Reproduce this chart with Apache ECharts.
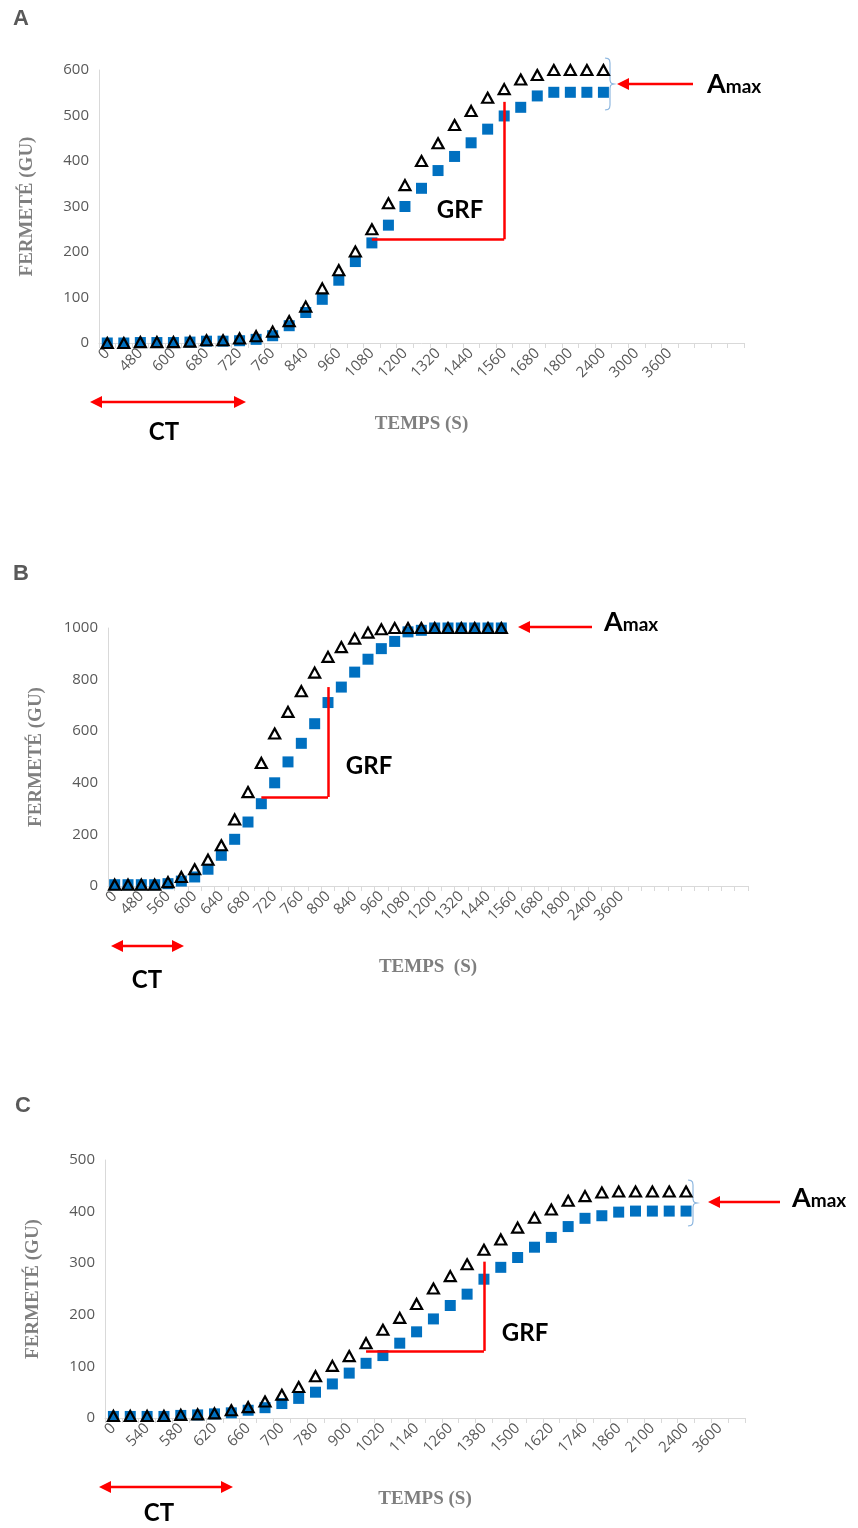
<!DOCTYPE html>
<html>
<head>
<meta charset="utf-8">
<script src="https://cdn.jsdelivr.net/npm/echarts@6/dist/echarts.min.js"></script>
<style>
html, body { margin: 0; padding: 0; background: #fff; }
#main { width: 858px; height: 1528px; }
</style>
</head>
<body>
<div id="main"></div>
<script>
// temps (s) - only every other one is labelled on the axis
var catsA = ['0','240','480','540','600','640','680','700','720','740','760','800','840','900','960','1020','1080','1140','1200','1260','1320','1380','1440','1500','1560','1620','1680','1740','1800','2100','2400','2700','3000','3300','3600','','','',''];
var squaresA = [0,0,1,1,1,2,4,4,5,8,16,38,67,96,138,179,220,259,300,340,379,410,440,470,499,518,543,551,551,551,551];
var trianglesA = [0,0,2,2,2,3,6,6,10,15,25,48,80,120,160,201,250,307,347,400,439,479,510,539,558,579,589,600,600,600,600];

var catsB = ['0','240','480','520','560','580','600','620','640','660','680','700','720','740','760','780','800','820','840','900','960','1020','1080','1140','1200','1260','1320','1380','1440','1500','1560','1620','1680','1740','1800','2100','2400','3000','3600','','','','','','','','',''];
var squaresB = [5,5,5,5,9,19,35,65,119,181,248,319,400,481,553,629,711,771,829,879,920,948,985,991,1000,1000,1000,1000,1000,1000];
var trianglesB = [5,5,5,5,15,35,65,102,158,258,364,477,591,675,755,827,888,926,959,982,995,1000,1000,1000,1000,1000,1000,1000,1000,1000];

var catsC = ['0','480','540','560','580','600','620','640','660','680','700','740','780','840','900','960','1020','1080','1140','1200','1260','1320','1380','1440','1500','1560','1620','1680','1740','1800','1860','1980','2100','2250','2400','3000','3600',''];
var squaresC = [3,3,3,3,5,6,8,10,15,20,28,38,50,66,87,106,121,145,167,192,218,240,269,292,311,331,350,371,387,392,399,401,401,401,401];
var trianglesC = [4,4,4,4,6,7,9,15,21,32,45,60,81,101,120,145,171,194,221,251,275,298,326,346,369,388,404,421,430,437,439,439,439,439,439];

// GRF : [start index, y, end index, top y]
var grfA = [16, 228, 24, 530];
var grfB = [11, 345, 16, 771];
var grfC = [15, 130, 22, 303];

var yMax = [600, 1000, 500];
var yStep = [100, 200, 100];

var grids = [
    { left: 99, right: 114, top: 70, height: 273 },
    { left: 108, right: 110, top: 628, height: 258 },
    { left: 105, right: 113, top: 1160, height: 258 }
];
var xNames = ['TEMPS (S)', 'TEMPS  (S)', 'TEMPS (S)'];

var axisGrey = '#d9d9d9';
var textGrey = '#595959';
var red = '#ff0000';

var xAxes = [], yAxes = [], series = [];
[[catsA, squaresA, trianglesA, grfA], [catsB, squaresB, trianglesB, grfB], [catsC, squaresC, trianglesC, grfC]].forEach(function (p, k) {
    xAxes.push({
        type: 'category', gridIndex: k, data: p[0], boundaryGap: true,
        axisLine: { lineStyle: { color: axisGrey, width: 1 } },
        axisTick: { show: true, interval: 0, length: 5, lineStyle: { color: axisGrey } },
        axisLabel: { interval: 1, rotate: 45, color: textGrey, fontSize: 15, fontFamily: 'Open Sans', margin: 8 },
        splitLine: { show: false },
        name: xNames[k], nameLocation: 'middle', nameGap: 72,
        nameTextStyle: { fontFamily: 'Liberation Serif', fontWeight: 'bold', fontSize: 19, color: '#7f7f7f' }
    });
    yAxes.push({
        type: 'value', gridIndex: k, min: 0, max: yMax[k], interval: yStep[k],
        axisLine: { show: true, lineStyle: { color: axisGrey } },
        axisTick: { show: false },
        splitLine: { show: false },
        axisLabel: { color: textGrey, fontSize: 15, fontFamily: 'Open Sans', margin: 10, formatter: function (v) { return String(v); } },
        name: 'FERMETÉ (GU)', nameLocation: 'middle', nameRotate: 90, nameGap: 62,
        nameTextStyle: { fontFamily: 'Liberation Serif', fontWeight: 'bold', fontSize: 19, color: '#7f7f7f' }
    });
    var g = p[3];
    series.push({
        type: 'scatter', xAxisIndex: k, yAxisIndex: k,
        data: p[1].map(function (v, i) { return [i, v]; }),
        symbol: 'rect', symbolSize: 11,
        itemStyle: { color: '#0070c0', opacity: 1 },
        markLine: {
            silent: true, symbol: 'none', label: { show: false },
            lineStyle: { color: red, width: 2.5, type: 'solid' },
            data: [
                [{ coord: [g[0], g[1]] }, { coord: [g[2], g[1]] }],
                [{ coord: [g[2], g[1]] }, { coord: [g[2], g[3]] }]
            ]
        }
    });
    series.push({
        type: 'scatter', xAxisIndex: k, yAxisIndex: k,
        data: p[2].map(function (v, i) { return [i, v]; }),
        symbol: 'triangle', symbolSize: [11, 10],
        itemStyle: { color: 'rgba(0,0,0,0)', borderColor: '#000', borderWidth: 2.2, opacity: 1 }
    });
});

function hArrow(x1, x2, y, both) {
    var els = [{ type: 'line', shape: { x1: x1 + 8, y1: y, x2: both ? x2 - 8 : x2, y2: y }, style: { stroke: red, lineWidth: 2.5 } }];
    els.push({ type: 'polygon', shape: { points: [[x1, y], [x1 + 12, y - 6], [x1 + 12, y + 6]] }, style: { fill: red } });
    if (both) els.push({ type: 'polygon', shape: { points: [[x2, y], [x2 - 12, y - 6], [x2 - 12, y + 6]] }, style: { fill: red } });
    return els;
}
function label(txt, x, y, size) {
    return { type: 'text', x: x, y: y, style: { text: txt, fontFamily: 'Lato', fontWeight: 'bold', fontSize: size || 24, fill: '#000', align: 'center', verticalAlign: 'middle' } };
}
function amax(x, y) {
    return { type: 'text', x: x, y: y, style: {
        text: '{a|A}{b|max}', verticalAlign: 'middle',
        rich: { a: { fontFamily: 'Lato', fontWeight: 'bold', fontSize: 27, fill: '#000' }, b: { fontFamily: 'Lato', fontWeight: 'bold', fontSize: 19, fill: '#000', padding: [6, 0, 0, 0] } }
    } };
}
// curly bracket drawn as a polyline
function brace(x, y1, y2) {
    var m = (y1 + y2) / 2;
    return { type: 'polyline', shape: { points: [
        [x, y1], [x + 3, y1 + 0.6], [x + 4.5, y1 + 2], [x + 5, y1 + 5],
        [x + 5, m - 4], [x + 5.6, m - 1.5], [x + 7, m - 0.4], [x + 9, m],
        [x + 7, m + 0.4], [x + 5.6, m + 1.5], [x + 5, m + 4],
        [x + 5, y2 - 5], [x + 4.5, y2 - 2], [x + 3, y2 - 0.6], [x, y2]
    ] }, style: { stroke: '#8fb8e0', lineWidth: 1.2, fill: null } };
}
function letter(t, x, y) {
    return { type: 'text', x: x, y: y, style: { text: t, fontFamily: 'Liberation Sans', fontWeight: 'bold', fontSize: 22, fill: textGrey } };
}

var graphics = [].concat(
    letter('A', 13, 8), letter('B', 13, 563), letter('C', 15, 1095),
    hArrow(90, 246, 402, true), label('CT', 164, 432),
    hArrow(111, 184, 946, true), label('CT', 147, 980),
    hArrow(99, 233, 1487, true), label('CT', 159, 1513),
    label('GRF', 460, 210), label('GRF', 369, 766), label('GRF', 525, 1333),
    hArrow(617, 693, 84, false), amax(707, 84), brace(605, 58, 110),
    hArrow(518, 592, 627, false), amax(604, 622),
    hArrow(708, 780, 1202, false), amax(792, 1198), brace(688, 1180, 1226)
);

var chart = echarts.init(document.getElementById('main'));
chart.setOption({
    animation: false,
    backgroundColor: '#fff',
    grid: grids,
    xAxis: xAxes,
    yAxis: yAxes,
    series: series,
    graphic: graphics
});
</script>
</body>
</html>
